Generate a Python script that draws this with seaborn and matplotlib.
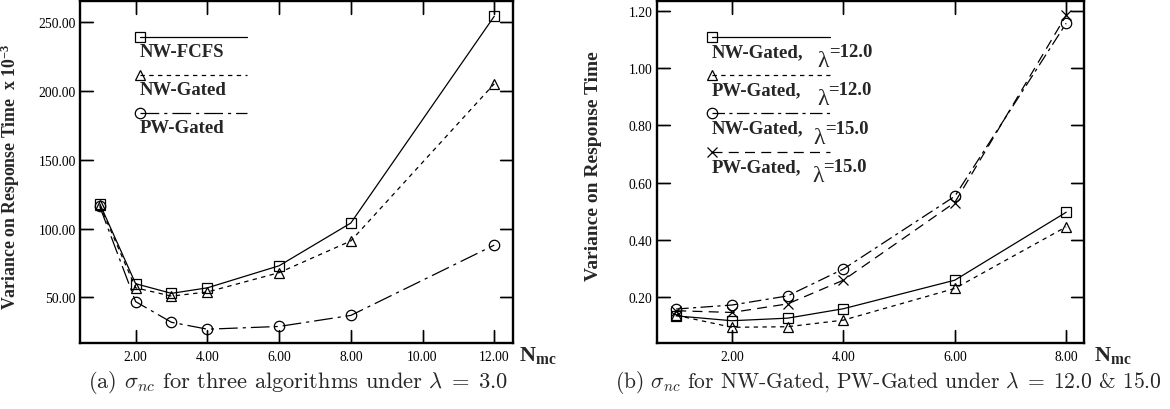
import matplotlib
matplotlib.use("Agg")
import numpy as np
import pandas as pd
import matplotlib.pyplot as plt
import seaborn as sns

sns.set_style("ticks", {'axes.axisbelow': False})
plt.rcParams['font.family'] = ['Liberation Serif', 'DejaVu Serif']
plt.rcParams['mathtext.fontset'] = 'custom'
plt.rcParams['mathtext.rm'] = 'Liberation Serif'
plt.rcParams['mathtext.bf'] = 'Liberation Serif:bold'
plt.rcParams['mathtext.it'] = 'Liberation Serif:italic'
plt.rcParams.update({
    'xtick.direction': 'in', 'ytick.direction': 'in',
    'xtick.top': True, 'ytick.right': True,
    'xtick.bottom': True, 'ytick.left': True,
    'xtick.major.size': 9.5, 'ytick.major.size': 9.5,
    'xtick.major.width': 1.0, 'ytick.major.width': 1.0,
    'xtick.color': 'black', 'ytick.color': 'black',
})

# (a) lambda = 3.0, variance x 10^-3
nmc_a = [1, 2, 3, 4, 6, 8, 12]
nw_fcfs = [118, 60, 53, 57, 73, 104, 254]
nw_gated = [117, 57, 51, 54, 68, 91, 205]
pw_gated = [116, 47, 32, 27, 29, 37, 88]
names_a = ['NW-FCFS', 'NW-Gated', 'PW-Gated']
xticks_a = [2, 4, 6, 8, 10, 12]
yticks_a = [50, 100, 150, 200, 250]

# (b) lambda = 12.0 & 15.0
nmc_b = [1, 2, 3, 4, 6, 8]
nw_gated_12 = [0.133, 0.116, 0.125, 0.158, 0.258, 0.496]
pw_gated_12 = [0.135, 0.093, 0.095, 0.118, 0.229, 0.445]
nw_gated_15 = [0.157, 0.171, 0.203, 0.297, 0.552, 1.158]
pw_gated_15 = [0.151, 0.145, 0.175, 0.258, 0.530, 1.186]
names_b = ['NW-Gated', 'PW-Gated', 'NW-Gated', 'PW-Gated']
lambdas_b = ['12.0', '12.0', '15.0', '15.0']
xticks_b = [2, 4, 6, 8]
yticks_b = [0.2, 0.4, 0.6, 0.8, 1.0, 1.2]

keys_b = [n + ' ' + l for n, l in zip(names_b, lambdas_b)]

df_a = pd.DataFrame({
    'Nmc': nmc_a * 3,
    'var': nw_fcfs + nw_gated + pw_gated,
    'alg': sum([[n] * len(nmc_a) for n in names_a], []),
})
df_b = pd.DataFrame({
    'Nmc': nmc_b * 4,
    'var': nw_gated_12 + pw_gated_12 + nw_gated_15 + pw_gated_15,
    'alg': sum([[k] * len(nmc_b) for k in keys_b], []),
})

mk_a = ['s', '^', 'o']
ds_a = ['', (3.5, 3.5), (15, 4, 2.5, 4)]
mk_b = ['s', '^', 'o', 'x']
ds_b = ['', (3.5, 3.5), (10, 3.5, 2.5, 3.5), (8, 5)]

line_kw = dict(color='black', linewidth=0.9, markersize=7.5,
               markerfacecolor='none', markeredgecolor='black', markeredgewidth=0.9)

fig = plt.figure(figsize=(11.7, 4.1), dpi=100)
ax1 = fig.add_axes([0.0684, 0.161, 0.370, 0.834])
ax2 = fig.add_axes([0.5613, 0.161, 0.3652, 0.834])

sns.lineplot(data=df_a, x='Nmc', y='var', style='alg', style_order=names_a,
             markers=dict(zip(names_a, mk_a)), dashes=dict(zip(names_a, ds_a)),
             legend=False, ax=ax1, **line_kw)
# seaborn won't mix filled and line-art markers, so the 'x' series goes on its own
filled_b = keys_b[:3]
sns.lineplot(data=df_b[df_b.alg.isin(filled_b)], x='Nmc', y='var', style='alg',
             style_order=filled_b, markers=dict(zip(filled_b, mk_b[:3])),
             dashes=dict(zip(filled_b, ds_b[:3])), legend=False, ax=ax2, **line_kw)
sns.lineplot(data=df_b[df_b.alg == keys_b[3]], x='Nmc', y='var', marker=mk_b[3],
             linestyle=(0, ds_b[3]), legend=False, ax=ax2, **line_kw)


def style_axes(ax, xlim, ylim, xticks, yticks):
    ax.set_axisbelow(False)
    ax.set_xlim(xlim)
    ax.set_ylim(ylim)
    ax.set_xticks(xticks)
    ax.set_yticks(yticks)
    ax.set_xticklabels(['%.2f' % v for v in xticks])
    ax.set_yticklabels(['%.2f' % v for v in yticks])
    ax.tick_params(which='major', direction='in', length=9.5, width=1.0,
                   top=True, right=True, bottom=True, left=True,
                   labelsize=9.8, color='black', labelcolor='black')
    ax.tick_params(axis='x', pad=5)
    ax.tick_params(axis='y', pad=3)
    for s in ax.spines.values():
        s.set_linewidth(1.7)
        s.set_color('black')
    ax.set_xlabel('')
    # inward tick marks on all four sides, drawn as short axis-fraction lines
    w = ax.get_position().width * 11.7 * 100
    hx = 13.0 / (ax.get_position().height * 4.1 * 100)
    hy = 13.0 / w
    for xt in xticks:
        ax.axvline(xt, 0, hx, color='black', lw=1.0, zorder=3)
        ax.axvline(xt, 1 - hx, 1, color='black', lw=1.0, zorder=3)
    for yt in yticks:
        ax.axhline(yt, 0, hy, color='black', lw=1.0, zorder=3)
        ax.axhline(yt, 1 - hy, 1, color='black', lw=1.0, zorder=3)


def key(ax, y, marker, dashes, x0, x1):
    ls = (0, dashes) if dashes else '-'
    ax.plot([x0, x1], [y, y], transform=ax.transAxes, ls=ls, marker=marker,
            markevery=[0], clip_on=False, **line_kw)


style_axes(ax1, (0.45, 12.52), (17, 265), xticks_a, yticks_a)
style_axes(ax2, (0.65, 8.32), (0.038, 1.236), xticks_b, yticks_b)

ax1.set_ylabel(r'Variance on Response Time  x 10$^{\mathbf{-3}}$',
               fontsize=12.8, fontweight='bold')
ax2.set_ylabel('Variance on Response Time', fontsize=14, fontweight='bold')
ax1.yaxis.set_label_coords(-0.135, 0.49)
ax2.yaxis.set_label_coords(-0.129, 0.52)

for ax, xx in [(ax1, 1.014), (ax2, 1.024)]:
    ax.text(xx, -0.035, r'$\mathbf{N_{mc}}$', transform=ax.transAxes,
            fontsize=16, ha='left', va='center')

# legend (a)
for i, n in enumerate(names_a):
    y = 0.895 - i * 0.111
    key(ax1, y, mk_a[i], ds_a[i], 0.139, 0.385)
    ax1.text(0.139, y - 0.055, n, transform=ax1.transAxes, fontsize=13.5,
             fontweight='bold', ha='left', va='baseline')

# legend (b)
lam_x = [0.377, 0.377, 0.367, 0.365]
eq_x = [0.403, 0.401, 0.394, 0.390]
for i, n in enumerate(names_b):
    y = 0.896 - i * 0.1123
    key(ax2, y, mk_b[i], ds_b[i], 0.129, 0.405)
    ax2.text(0.129, y - 0.056, n + ',', transform=ax2.transAxes, fontsize=13.5,
             fontweight='bold', ha='left', va='baseline')
    ax2.text(lam_x[i], y - 0.086, '\u03bb', transform=ax2.transAxes, fontsize=17,
             ha='left', va='baseline')
    ax2.text(eq_x[i], y - 0.056, '=' + lambdas_b[i], transform=ax2.transAxes,
             fontsize=13.5, fontweight='bold', ha='left', va='baseline')

cap_kw = dict(family='cmr10', math_fontfamily='cm', ha='center', va='center')
fig.text(0.2547, 0.066,
         r'(a) $\sigma_{nc}$ for three algorithms under $\lambda\;=\;3.0$',
         fontsize=16.2, **cap_kw)
fig.text(0.759, 0.066,
         r'(b) $\sigma_{nc}$ for NW-Gated, PW-Gated under $\lambda\;=\;12.0$ & 15.0',
         fontsize=15.5, **cap_kw)

fig.savefig('out.png', dpi=100)
